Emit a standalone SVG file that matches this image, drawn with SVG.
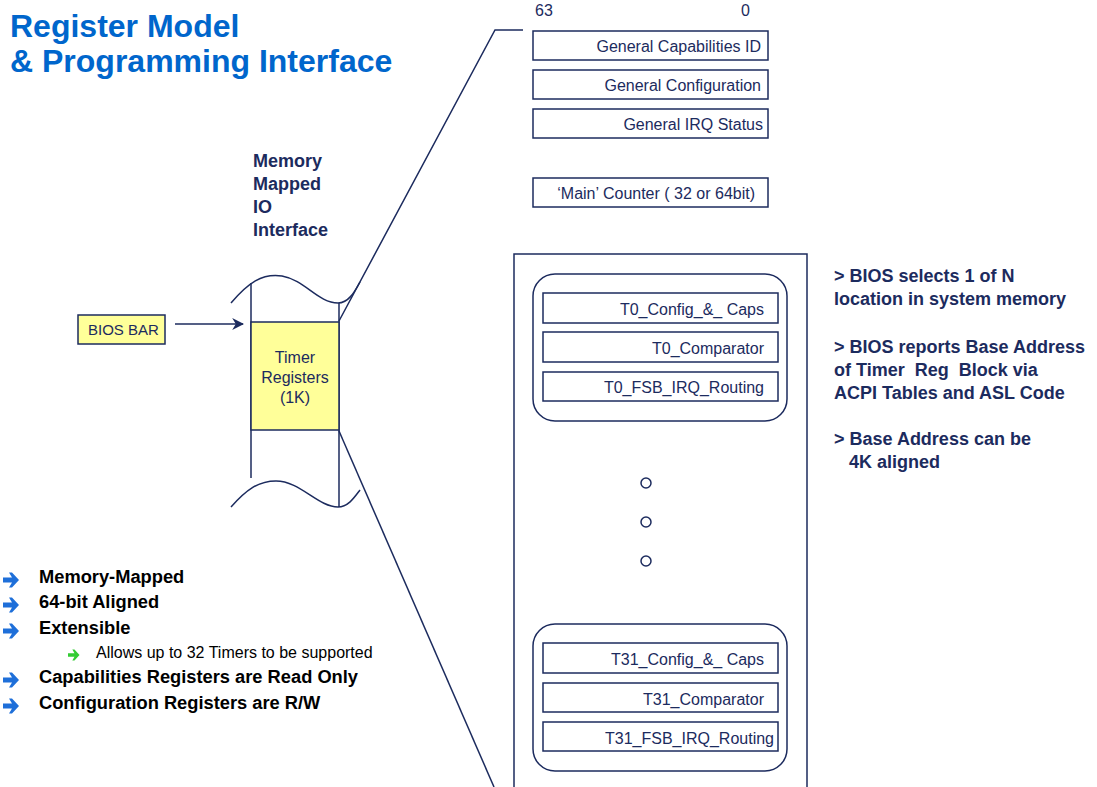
<svg xmlns="http://www.w3.org/2000/svg" width="1097" height="787" viewBox="0 0 1097 787">
<style>
text{font-family:"Liberation Sans",Arial,sans-serif}
.title{font-size:32px;font-weight:bold;fill:#0066CC}
.reg{font-size:16px;fill:#1C2B5E}
.nav{font-size:18px;font-weight:bold;fill:#1C2B5E}
.blt{font-size:18.3px;font-weight:bold;fill:#000}
.sub{font-size:16px;fill:#000}
.box{fill:#fff;stroke:#1C2B5E;stroke-width:1.5}
.ybox{fill:#FFFF99;stroke:#1C2B5E;stroke-width:1.5}
.ln{fill:none;stroke:#1C2B5E;stroke-width:1.5}
</style>
<defs>
<marker id="ah" viewBox="0 0 10 10" refX="9" refY="5" markerWidth="12" markerHeight="12" markerUnits="userSpaceOnUse" orient="auto">
<path d="M0,0 L10,5 L0,10 L3,5 Z" fill="#1C2B5E"/>
</marker>
<path id="barrow" d="M0,-2.5 L9,-2.5 L6,-7.5 L9,-7.5 L16,0 L9,7.5 L6,7.5 L9,2.5 L0,2.5 Z"/>
</defs>

<g id="title">
<text class="title" x="10" y="37">Register Model</text>
<text class="title" x="10" y="72">&amp; Programming Interface</text>
</g>

<g id="mmio-label">
<text class="nav" x="253" y="167">Memory</text>
<text class="nav" x="253" y="190">Mapped</text>
<text class="nav" x="253" y="213">IO</text>
<text class="nav" x="253" y="236">Interface</text>
</g>

<g id="memory-column">
<line class="ln" x1="251" y1="283" x2="251" y2="478"/>
<line class="ln" x1="339" y1="303" x2="339" y2="507"/>
<path class="ln" d="M231,303 C248,283 262,273 282,276 C305,280 318,303 338,303 C348,303 354,293 360,282"/>
<path class="ln" d="M231,507 C246,490 258,481 276,481 C300,481 318,507 338,507 C348,507 354,498 360,490"/>
</g>

<g id="timer-registers">
<rect class="ybox" x="251" y="322" width="88" height="108"/>
<text class="reg" x="295" y="363" text-anchor="middle">Timer</text>
<text class="reg" x="295" y="383" text-anchor="middle">Registers</text>
<text class="reg" x="295" y="403" text-anchor="middle">(1K)</text>
</g>

<g id="bios-bar">
<rect class="ybox" x="78" y="315" width="87" height="29"/>
<text class="reg" x="88" y="335" style="font-size:15px">BIOS BAR</text>
</g>

<g id="connectors">
<line class="ln" x1="175" y1="324" x2="243" y2="324" marker-end="url(#ah)"/>
<polyline class="ln" points="339,321 495,30 523,30"/>
<line class="ln" x1="339" y1="431" x2="494" y2="787"/>
</g>

<g id="bit-labels">
<text class="reg" x="535" y="16">63</text>
<text class="reg" x="741" y="16">0</text>
</g>

<g id="gen-cap">
<rect class="box" x="533" y="31" width="235" height="29"/>
<text class="reg" x="761" y="52" text-anchor="end">General Capabilities ID</text>
</g>
<g id="gen-config">
<rect class="box" x="533" y="70" width="235" height="29"/>
<text class="reg" x="761" y="91" text-anchor="end">General Configuration</text>
</g>
<g id="gen-irq">
<rect class="box" x="533" y="109" width="235" height="29"/>
<text class="reg" x="763" y="130" text-anchor="end">General IRQ Status</text>
</g>
<g id="main-counter">
<rect class="box" x="533" y="178" width="235" height="29"/>
<text class="reg" x="755" y="199" text-anchor="end">‘Main’ Counter ( 32 or 64bit)</text>
</g>

<g id="timer-block">
<path class="ln" d="M514,787 L514,254 L807,254 L807,787"/>
<circle class="ln" cx="646" cy="483" r="5"/>
<circle class="ln" cx="646" cy="522" r="5"/>
<circle class="ln" cx="646" cy="561" r="5"/>
</g>

<g id="t0">
<rect class="box" x="533" y="274" width="254" height="147" rx="22"/>
<rect class="box" x="543" y="293" width="235" height="30"/>
<text class="reg" x="764" y="315" text-anchor="end">T0_Config_&amp;_ Caps</text>
<rect class="box" x="543" y="332" width="235" height="30"/>
<text class="reg" x="764" y="354" text-anchor="end">T0_Comparator</text>
<rect class="box" x="543" y="372" width="235" height="29"/>
<text class="reg" x="764" y="393" text-anchor="end">T0_FSB_IRQ_Routing</text>
</g>

<g id="t31">
<rect class="box" x="533" y="624" width="254" height="147" rx="22"/>
<rect class="box" x="543" y="643" width="235" height="30"/>
<text class="reg" x="764" y="665" text-anchor="end">T31_Config_&amp;_ Caps</text>
<rect class="box" x="543" y="683" width="235" height="29"/>
<text class="reg" x="764" y="705" text-anchor="end">T31_Comparator</text>
<rect class="box" x="543" y="722" width="235" height="29"/>
<text class="reg" x="774" y="744" text-anchor="end">T31_FSB_IRQ_Routing</text>
</g>

<g id="notes">
<text class="nav" x="834" y="282">&gt; BIOS selects 1 of N</text>
<text class="nav" x="834" y="305">location in system memory</text>
<text class="nav" x="834" y="353">&gt; BIOS reports Base Address</text>
<text class="nav" x="834" y="376" xml:space="preserve">of Timer  Reg  Block via</text>
<text class="nav" x="834" y="399">ACPI Tables and ASL Code</text>
<text class="nav" x="834" y="445">&gt; Base Address can be</text>
<text class="nav" x="849" y="468">4K aligned</text>
</g>

<g id="bullets">
<use href="#barrow" x="3" y="580" fill="#1E6FD9"/>
<text class="blt" x="39" y="583">Memory-Mapped</text>
<use href="#barrow" x="3" y="605" fill="#1E6FD9"/>
<text class="blt" x="39" y="608">64-bit Aligned</text>
<use href="#barrow" x="3" y="631" fill="#1E6FD9"/>
<text class="blt" x="39" y="634">Extensible</text>
<use href="#barrow" x="0" y="0" fill="#33CC33" transform="translate(68,655) scale(0.72)"/>
<text class="sub" x="96" y="658">Allows up to 32 Timers to be supported</text>
<use href="#barrow" x="3" y="680" fill="#1E6FD9"/>
<text class="blt" x="39" y="683">Capabilities Registers are Read Only</text>
<use href="#barrow" x="3" y="706" fill="#1E6FD9"/>
<text class="blt" x="39" y="709">Configuration Registers are R/W</text>
</g>
</svg>
